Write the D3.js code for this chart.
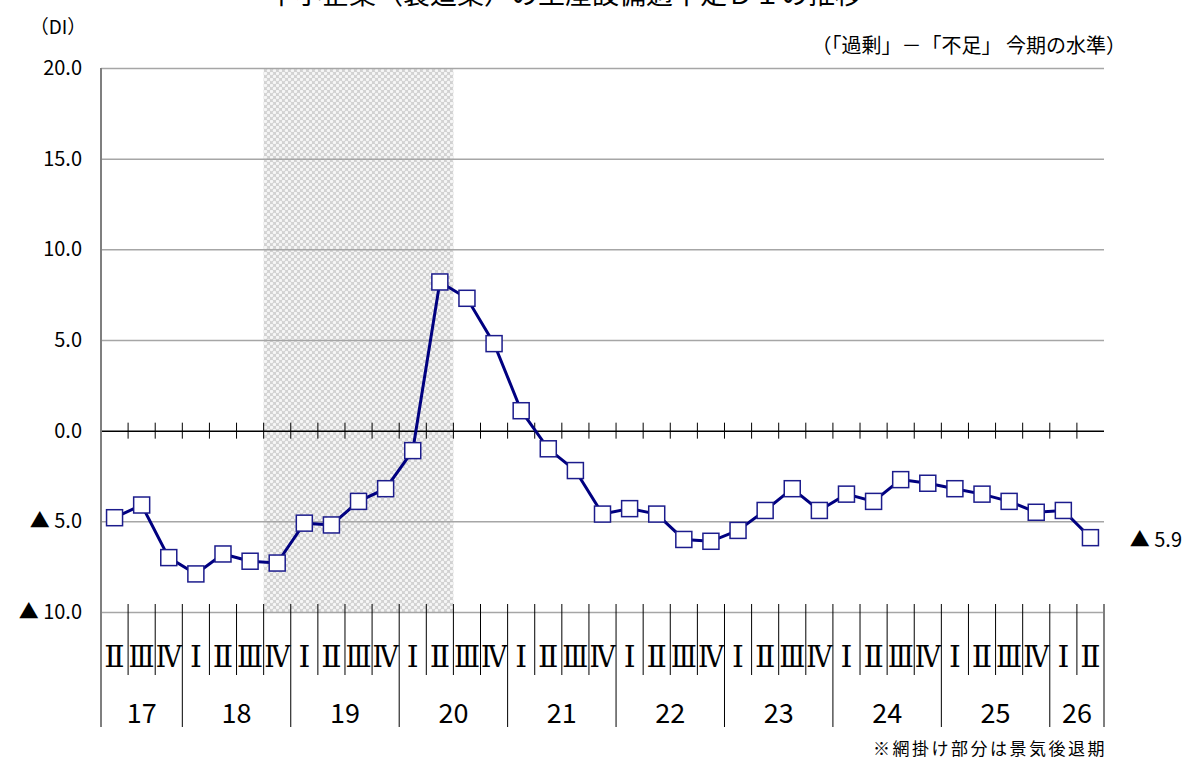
<!DOCTYPE html>
<html>
<head>
<meta charset="utf-8">
<script src="https://cdn.jsdelivr.net/npm/d3@7"></script>
<style>
  body { margin: 0; background: #fff; }
  svg { display: block; font-family: "Noto Sans CJK JP", sans-serif; }
</style>
</head>
<body>
<script>
// quarters from 2017 II to 2026 II
var quarterLabels = ["Ⅱ","Ⅲ","Ⅳ",
    "Ⅰ","Ⅱ","Ⅲ","Ⅳ", "Ⅰ","Ⅱ","Ⅲ","Ⅳ", "Ⅰ","Ⅱ","Ⅲ","Ⅳ", "Ⅰ","Ⅱ","Ⅲ","Ⅳ",
    "Ⅰ","Ⅱ","Ⅲ","Ⅳ", "Ⅰ","Ⅱ","Ⅲ","Ⅳ", "Ⅰ","Ⅱ","Ⅲ","Ⅳ", "Ⅰ","Ⅱ","Ⅲ","Ⅳ",
    "Ⅰ","Ⅱ"]
var yearOfQuarter = ["17","17","17",
    "18","18","18","18", "19","19","19","19", "20","20","20","20", "21","21","21","21",
    "22","22","22","22", "23","23","23","23", "24","24","24","24", "25","25","25","25",
    "26","26"]
var diValues = [-4.8, -4.1, -7.0,
    -7.9, -6.8, -7.2, -7.3,  -5.1, -5.2, -3.9, -3.2,  -1.1, 8.2, 7.3, 4.8,  1.1, -1.0, -2.2, -4.6,
    -4.3, -4.6, -6.0, -6.1,  -5.5, -4.4, -3.2, -4.4,  -3.5, -3.9, -2.7, -2.9,  -3.2, -3.5, -3.9, -4.5,
    -4.4, -5.9]
var yTicks = [-10, -5, 0, 5, 10, 15, 20]
// recession period: 18 IV .. 20 II (index into quarters)
var recession = [6, 12]

var width = 1186, height = 758
var margin = {top: 68, left: 101, right: 82, bottom: 146}
var plotRight = width - margin.right
var plotBottom = height - margin.bottom

var svg = d3.select("body").append("svg")
    .attr("width", width).attr("height", height)

// shading pattern
var defs = svg.append("defs")
var pat = defs.append("pattern")
    .attr("id", "hatch").attr("patternUnits", "userSpaceOnUse")
    .attr("width", 6).attr("height", 6)
pat.append("rect").attr("width", 6).attr("height", 6).attr("fill", "#d2d2d2")
pat.append("circle").attr("cx", 1.5).attr("cy", 1.5).attr("r", 1.7).attr("fill", "#f6f6f6")
pat.append("circle").attr("cx", 4.5).attr("cy", 4.5).attr("r", 1.7).attr("fill", "#f6f6f6")

var idx = d3.range(diValues.length)
var x = d3.scaleBand().domain(idx).range([margin.left, plotRight]).padding(0)
var xEdge = d3.scaleLinear().domain([0, diValues.length]).range([margin.left, plotRight])
var y = d3.scaleLinear().domain([-10, 20]).range([plotBottom, margin.top])

// recession band
svg.append("rect")
    .attr("x", xEdge(recession[0]))
    .attr("width", xEdge(recession[1] + 1) - xEdge(recession[0]))
    .attr("y", y(20)).attr("height", y(-10) - y(20))
    .attr("fill", "url(#hatch)")

// gridlines + y labels
var yAxis = svg.append("g")
    .attr("transform", "translate(" + margin.left + ",0)")
    .call(d3.axisLeft(y).tickValues(yTicks)
        .tickSize(-(plotRight - margin.left))
        .tickPadding(19)
        .tickFormat(function(d){ return d < 0 ? "▲ " + d3.format(".1f")(-d) : d3.format(".1f")(d) }))
yAxis.select(".domain").remove()
yAxis.selectAll(".tick line")
    .attr("stroke", function(d){ return d === 0 ? "#000" : "#a6a6a6" })
    .attr("stroke-width", 1.5)
yAxis.selectAll(".tick text")
    .attr("font-size", 20).attr("fill", "#000")
    .attr("font-family", "'Noto Sans CJK JP', sans-serif")

// left axis line
svg.append("line")
    .attr("x1", margin.left).attr("x2", margin.left)
    .attr("y1", y(20)).attr("y2", 727)
    .attr("stroke", "#7f7f7f").attr("stroke-width", 2)

// ticks on zero line
svg.append("g").selectAll("line")
    .data(d3.range(1, diValues.length))
    .enter().append("line")
    .attr("x1", function(d){ return xEdge(d) }).attr("x2", function(d){ return xEdge(d) })
    .attr("y1", y(0) - 8).attr("y2", y(0) + 8)
    .attr("stroke", "#000").attr("stroke-width", 1)

// category separators below the plot
var yearStarts = idx.filter(function(i){ return i === 0 || yearOfQuarter[i] !== yearOfQuarter[i - 1] })
svg.append("g").selectAll("line")
    .data(d3.range(1, diValues.length + 1))
    .enter().append("line")
    .attr("x1", function(d){ return xEdge(d) }).attr("x2", function(d){ return xEdge(d) })
    .attr("y1", plotBottom - 8)
    .attr("y2", function(d){ return (yearStarts.indexOf(d) >= 0 || d === diValues.length) ? 727 : 675 })
    .attr("stroke", function(d){ return d === diValues.length ? "#7f7f7f" : "#000" })
    .attr("stroke-width", function(d){ return d === diValues.length ? 2 : 1 })

// quarter labels (squeezed to fit the band, like the original)
svg.append("g").selectAll("text")
    .data(idx)
    .enter().append("text")
    .attr("x", function(d){ return x(d) + x.bandwidth() / 2 })
    .attr("y", 656)
    .attr("text-anchor", "middle").attr("dominant-baseline", "central")
    .attr("font-family", "'DejaVu Serif', serif")
    .attr("font-size", 30)
    .text(function(d){ return quarterLabels[d] })
    .each(function(){
        var w = this.getComputedTextLength()
        var maxW = x.bandwidth() - 1
        if (w > maxW) d3.select(this).attr("textLength", maxW).attr("lengthAdjust", "spacingAndGlyphs")
    })

// year labels
var yearGroups = d3.groups(idx, function(i){ return yearOfQuarter[i] })
svg.append("g").selectAll("text")
    .data(yearGroups)
    .enter().append("text")
    .attr("x", function(g){ return (xEdge(g[1][0]) + xEdge(g[1][g[1].length - 1] + 1)) / 2 })
    .attr("y", 711)
    .attr("text-anchor", "middle").attr("dominant-baseline", "central")
    .attr("font-size", 27)
    .text(function(g){ return g[0] })

// line
var line = d3.line()
    .x(function(d){ return x(d) + x.bandwidth() / 2 })
    .y(function(d){ return y(diValues[d]) })
svg.append("path")
    .datum(idx)
    .attr("d", line)
    .attr("fill", "none").attr("stroke", "#000080").attr("stroke-width", 3)

// markers
svg.append("g").selectAll("rect")
    .data(idx)
    .enter().append("rect")
    .attr("x", function(d){ return x(d) + x.bandwidth() / 2 - 8 })
    .attr("y", function(d){ return y(diValues[d]) - 8 })
    .attr("width", 16).attr("height", 16)
    .attr("fill", "#fff").attr("stroke", "#1c1c8c").attr("stroke-width", 1.5)

// last value label
var last = diValues[diValues.length - 1]
svg.append("text")
    .attr("x", 1182).attr("y", y(last) + 1)
    .attr("text-anchor", "end").attr("dominant-baseline", "central")
    .attr("font-size", 20)
    .text("▲ " + d3.format(".1f")(-last))

// titles and notes
svg.append("text")
    .attr("x", 565).attr("y", 4)
    .attr("text-anchor", "middle").attr("font-size", 27)
    .text("中小企業（製造業）の生産設備過不足ＤＩの推移")
svg.append("text")
    .attr("x", 58).attr("y", 25)
    .attr("text-anchor", "middle").attr("dominant-baseline", "central")
    .attr("font-size", 19)
    .text("（DI）")
svg.append("text")
    .attr("x", 1126).attr("y", 44)
    .attr("text-anchor", "end").attr("dominant-baseline", "central")
    .attr("font-size", 20)
    .text("（「過剰」－「不足」 今期の水準）")
svg.append("text")
    .attr("x", 1107).attr("y", 747)
    .attr("text-anchor", "end").attr("dominant-baseline", "central")
    .attr("font-size", 17).attr("letter-spacing", 2.5)
    .text("※網掛け部分は景気後退期")
</script>
</body>
</html>
